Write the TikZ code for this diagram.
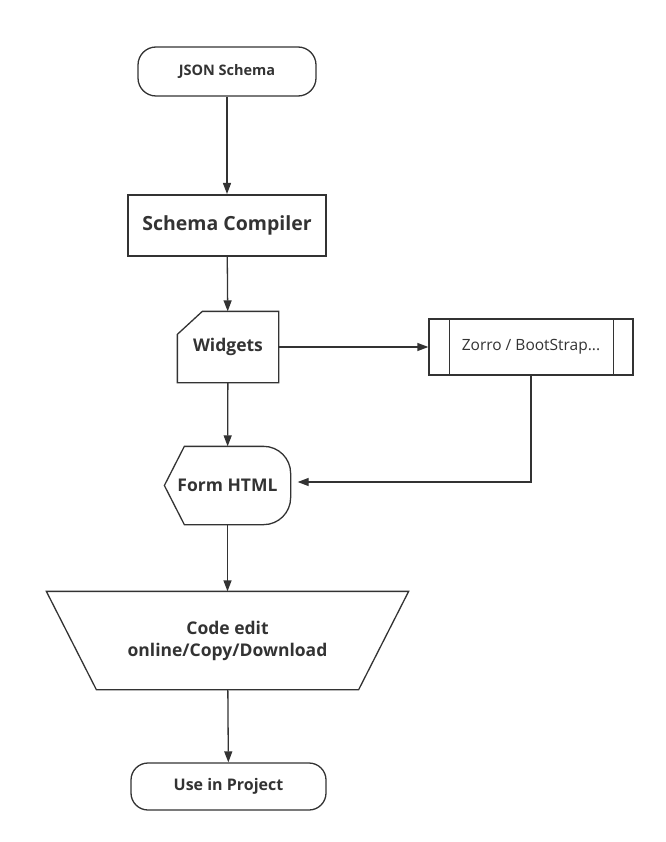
\documentclass[tikz,border=0pt]{standalone}
\usepackage{fontspec}
\setmainfont{Open Sans}
\usetikzlibrary{arrows.meta}
\definecolor{ink}{HTML}{333333}
\begin{document}
\begin{tikzpicture}[
                x=1pt, y=-1pt,
                line width=1.3pt,
                every node/.style={text=ink, inner sep=0pt},
                terminal/.style={draw=ink, rounded corners=18pt, font=\bfseries\fontsize{14.5}{17}\selectfont},
                process/.style={draw=ink, line width=2pt, font=\bfseries\fontsize{19.5}{23}\selectfont},
                plain/.style={font=\bfseries\fontsize{17.5}{22}\selectfont, align=center},
                flow/.style={draw=ink, -{Triangle[length=11pt,width=8pt]}}
            ]
            \useasboundingbox (0,0) rectangle (665,842);
            \node[terminal, minimum width=178pt, minimum height=49pt] (json) at (227,71.5) {JSON Schema};
            \node[process, minimum width=198pt, minimum height=61pt] (compiler) at (227,225.5) {Schema Compiler};
            \node[plain, minimum width=100pt, minimum height=70pt] (widgets) at (228,347) {Widgets};
            \node[draw=ink, minimum width=204pt, minimum height=56pt,
                font=\fontsize{15.5}{18}\selectfont] (zorro) at (531,347) {Zorro / BootStrap...};
            \node[plain, minimum width=125pt, minimum height=77pt] (form) at (227.5,485.5) {Form HTML};
            \node[plain, minimum width=361pt, minimum height=97pt] (code) at (227.5,640.5) {Code edit\\online/Copy/Download};
            \node[terminal, rounded corners=17pt, minimum width=195pt, minimum height=47pt,
                font=\bfseries\fontsize{16}{19}\selectfont] (use) at (228.5,786.5) {Use in Project};

            % outlines of the shapes with no ready-made node shape
            \draw[ink] (widgets.south west) -- (widgets.south east) -- (widgets.north east)
                -- ([xshift=25pt]widgets.north west) -- ([yshift=-23pt]widgets.north west) -- cycle;
            \draw[ink] ([xshift=21pt]zorro.north west) -- ([xshift=21pt]zorro.south west)
                ([xshift=-20pt]zorro.north east) -- ([xshift=-20pt]zorro.south east);
            \draw[ink] (form.west) -- ([xshift=20pt]form.north west) -- ([xshift=-27pt]form.north east)
                arc[start angle=90, end angle=0, radius=27pt] -- ([yshift=27pt]form.south east)
                arc[start angle=0, end angle=-90, radius=27pt] -- ([xshift=20pt]form.south west) -- cycle;
            \draw[ink] (code.north west) -- (code.north east) -- ([xshift=-50pt]code.south east)
                -- ([xshift=50pt]code.south west) -- cycle;

            \draw[flow] (json) -- (compiler);
            \draw[flow] (compiler) -- (widgets);
            \draw[flow] (widgets) -- (zorro);
            \draw[flow] (widgets) -- (form);
            \draw[flow] (zorro.south) |- ([xshift=7pt,yshift=3.5pt]form.east);
            \draw[flow] (form) -- (code);
            \draw[flow] (code) -- (use);
        \end{tikzpicture}
\end{document}
